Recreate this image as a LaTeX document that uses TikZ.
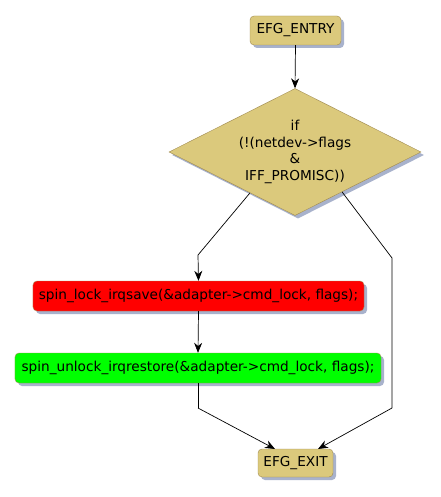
\documentclass[tikz,border=0pt]{standalone}
\usepackage{fontspec}
\setmainfont{DejaVu Sans}
\usetikzlibrary{shapes.geometric,shadows,arrows.meta,calc}
\definecolor{tan}{HTML}{DBC97C}
\definecolor{tanborder}{HTML}{A08A50}
\definecolor{shadowcol}{HTML}{A8B2CC}
\definecolor{redfill}{HTML}{FF0000}
\definecolor{greenfill}{HTML}{00FF00}
\tikzset{
  shad/.style={drop shadow={shadow xshift=3bp,shadow yshift=-3bp,fill=shadowcol,opacity=1}},
  termbox/.style={draw=tanborder,fill=tan,rounded corners=4bp,shad,font=\fontsize{13.7}{16}\selectfont,inner sep=0pt,minimum height=29bp},
  actbox/.style={draw=tanborder,rounded corners=4bp,shad,font=\fontsize{13.7}{16}\selectfont,inner sep=0pt,minimum height=30bp},
  decbox/.style={diamond,draw=tanborder,fill=tan,shad,aspect=2,inner sep=0pt,minimum width=252bp,minimum height=127bp,align=center,font=\fontsize{13.7}{16.7}\selectfont},
  conn/.style={draw=black,line width=0.7bp,-{Stealth[length=10bp,width=8bp]}},
  seg/.style={draw=black,line width=0.7bp}
}
\begin{document}
\begin{tikzpicture}[x=1bp,y=-1bp]
\useasboundingbox[fill=white] (0,0) rectangle (441,497);
\node[termbox,minimum width=91bp] (entry) at (295.5,30.5) {EFG\_ENTRY};
\node[decbox] (dec) at (295,152) {if\\(!(netdev->flags\\\&\\IFF\_PROMISC))};
\node[actbox,fill=redfill,minimum width=331bp] (lock) at (198.5,296) {spin\_lock\_irqsave(\&adapter->cmd\_lock, flags);};
\node[actbox,fill=greenfill,minimum width=366bp] (unlock) at (198,368) {spin\_unlock\_irqrestore(\&adapter->cmd\_lock, flags);};
\node[termbox,minimum width=75bp,minimum height=28bp] (exit) at (295.5,463) {EFG\_EXIT};
\coordinate (dl) at ($(dec.south)!0.357!(dec.west)$);
\coordinate (dr) at ($(dec.south)!0.373!(dec.east)$);
\coordinate (lbend) at (198,255);
\coordinate (rbend) at (392,258);
\coordinate (rlow) at (392,408);
\coordinate (glow) at (198,408);
\coordinate (exitl) at (275,449);
\coordinate (exitr) at (318,449);
\draw[conn] (entry.south) -- (dec.north);
\draw[seg] (dl) -- (lbend);
\draw[conn] (lbend) -- (lock.north);
\draw[conn] (lock.south) -- (unlock.north);
\draw[seg] (unlock.south) -- (glow);
\draw[conn] (glow) -- (exitl);
\draw[seg] (dr) -- (rbend) -- (rlow);
\draw[conn] (rlow) -- (exitr);
\end{tikzpicture}
\end{document}
